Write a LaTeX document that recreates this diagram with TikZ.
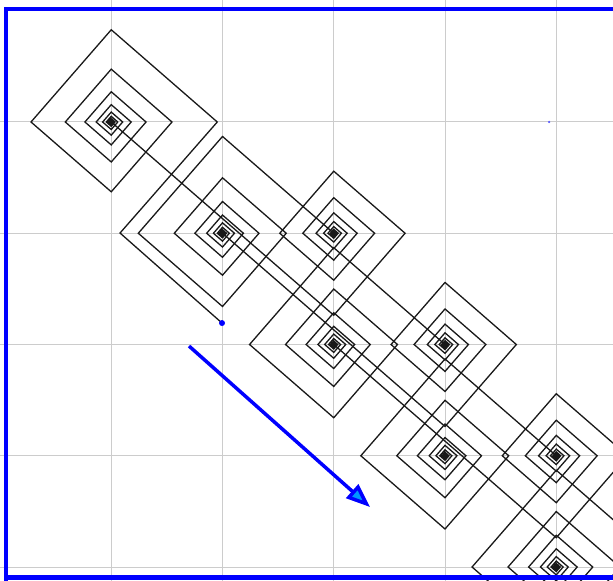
\documentclass[tikz,border=0pt]{standalone}
\usetikzlibrary{arrows.meta}
\definecolor{FrameBlue}{RGB}{0,0,255}
\definecolor{DotBlue}{RGB}{90,90,255}
\definecolor{GridGray}{RGB}{204,204,204}
\definecolor{HeadFill}{RGB}{0,150,255}
\tikzset{
  gridline/.style={draw=GridGray,line width=1bp},
  spiral/.style={draw=black!90,line width=1.3bp,line join=miter},
  frameline/.style={draw=FrameBlue,line width=4.5bp},
  vecarrow/.style={draw=FrameBlue,line width=3.5bp,
    -{Triangle[length=24bp,width=18bp,fill=HeadFill]}},
  startdot/.style={circle,fill=FrameBlue,inner sep=0pt,minimum size=6bp},
  smalldot/.style={circle,fill=DotBlue,inner sep=0pt,minimum size=2.5bp}
}
\begin{document}
\begin{tikzpicture}[x=111.25bp,y=-111.25bp]
  \useasboundingbox (0,-0.0966) rectangle (5.510,5.117);
  \clip (0,-0.0966) rectangle (5.510,5.117);
  \fill[white] (0,-0.0966) rectangle (5.510,5.117);

  % grid
  \foreach \i in {1,...,5} {
    \draw[gridline] (\i,-0.1) -- (\i,5.2);
    \draw[gridline] (0,\i) -- (5.6,\i);
  }

  % centres
  \coordinate (c1) at (1,1);
  \coordinate (c2) at (2,2);
  \coordinate (c3) at (3,2);
  \coordinate (c4) at (3,3);
  \coordinate (c5) at (4,3);
  \coordinate (c6) at (4,4);
  \coordinate (c7) at (5,4);
  \coordinate (c8) at (5,5);
  \coordinate (p0) at (1.9955,2.807);
  \coordinate (p1) at (1.079,1.998);
  \coordinate (q0) at (4.935,1.0);
  \coordinate (vs) at (1.699,3.014);
  \coordinate (ve) at (3.326,4.461);

  % first spiral, with its lead-in
  \draw[spiral] (p0) -- (p1) -- plot[domain=0:38,samples=39,variable=\j]
    ({1+0.953*0.87^\j*cos(90*\j)},{1-0.953*0.87^\j*sin(90*\j)});

  % spirals on the diagonal, starting at the right-hand neighbour
  \foreach \cx/\cy in {2/2,3/3,4/4,5/5}
    \draw[spiral] plot[domain=0:40,samples=41,variable=\j]
      ({\cx+0.87^\j*cos(90*\j)},{\cy-0.87^\j*sin(90*\j)});

  % spirals off the diagonal, led in from two columns back
  \foreach \cx/\cy in {3/2,4/3,5/4}
    \draw[spiral] (\cx-2,\cy-1) -- plot[domain=0:38,samples=39,variable=\j]
      ({\cx+0.737*0.87^\j*cos(270+90*\j)},{\cy-0.737*0.87^\j*sin(270+90*\j)});

  % dots and vector
  \node[startdot] (d0) at (p0) {};
  \node[smalldot] (d1) at (q0) {};
  \draw[vecarrow] (vs) -- (ve);

  % frame
  \draw[frameline] (0.054,5.6) -- (0.054,-0.0175) -- (5.7,-0.0175);
  \draw[frameline] (0.054,5.094) -- (5.7,5.094);
\end{tikzpicture}
\end{document}
